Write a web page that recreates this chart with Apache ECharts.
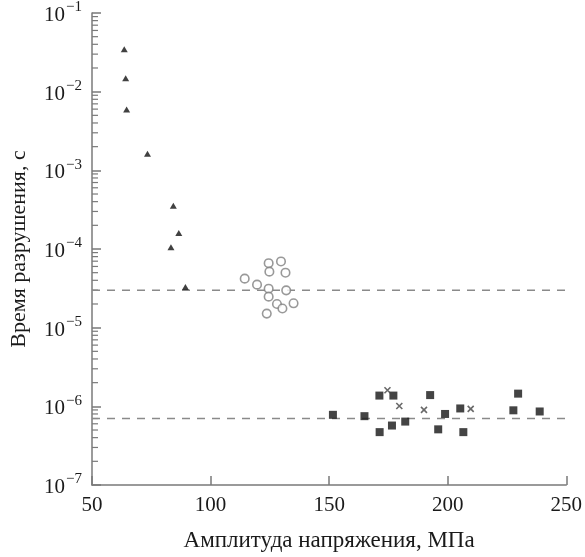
<!DOCTYPE html>
<html>
<head>
<meta charset="utf-8">
<script src="https://cdn.jsdelivr.net/npm/echarts@6/dist/echarts.min.js"></script>
<style>
  html, body { margin: 0; padding: 0; background: #fff; }
  #chart { width: 585px; height: 557px; }
</style>
</head>
<body>
<div id="chart"></div>
<script>
// Stress amplitude (MPa) vs time to failure (s)
const triangleX = [63.6, 64.2, 64.6, 73.4, 84.3, 86.6, 83.3, 89.4];
const triangleY = [3.45e-2, 1.48e-2, 5.95e-3, 1.62e-3, 3.55e-4, 1.6e-4, 1.05e-4, 3.28e-5];

const circleX = [114.4, 119.6, 124.5, 129.7, 124.8, 131.6, 124.5, 131.9, 124.5, 128.0, 130.3, 135.0, 123.7];
const circleY = [4.2e-5, 3.52e-5, 6.6e-5, 6.95e-5, 5.15e-5, 5.0e-5, 3.13e-5, 2.98e-5, 2.48e-5, 2.0e-5, 1.75e-5, 2.04e-5, 1.51e-5];

const squareX = [151.6, 164.9, 171.2, 177.1, 171.3, 176.5, 182.1, 192.6, 196.0, 198.9, 205.3, 206.6, 227.7, 229.7, 238.8];
const squareY = [7.8e-7, 7.5e-7, 1.37e-6, 1.37e-6, 4.7e-7, 5.7e-7, 6.4e-7, 1.39e-6, 5.1e-7, 8.0e-7, 9.4e-7, 4.7e-7, 8.9e-7, 1.45e-6, 8.6e-7];

const crossX = [174.6, 179.6, 190.0, 209.7];
const crossY = [1.6e-6, 1.01e-6, 9.0e-7, 9.3e-7];

// Horizontal reference levels
const levels = [3e-5, 7e-7];

// Axis ranges and ticks
const xTicks = [50, 100, 150, 200, 250];
const yMinExp = -7;
const yMaxExp = -1;
const minorMultipliers = [2, 3, 4, 5, 6, 7, 8, 9];

const FONT = '"Liberation Serif", "DejaVu Serif", serif';
const AXIS_COLOR = '#7a7a7a';
const TEXT_COLOR = '#1a1a1a';

const zip = (xs, ys) => xs.map((x, i) => [x, ys[i]]);

// Minor ticks of the log axis (2..9 within every decade)
const minorTicks = [];
for (let e = yMinExp; e < yMaxExp; e++) {
  minorMultipliers.forEach(m => minorTicks.push([xTicks[0], m * Math.pow(10, e)]));
}

const chart = echarts.init(document.getElementById('chart'), null, { renderer: 'canvas' });

const crossPath = 'path://M0,0L10,10M10,0L0,10';

chart.setOption({
  animation: false,
  backgroundColor: '#ffffff',
  grid: { left: 91, right: 18, top: 12.5, bottom: 71, containLabel: false },
  xAxis: {
    type: 'value',
    min: 50, max: 250, interval: 50,
    name: 'Амплитуда напряжения, МПа',
    nameLocation: 'middle',
    nameGap: 44,
    nameTextStyle: { fontFamily: FONT, fontSize: 23, color: TEXT_COLOR },
    axisLine: { lineStyle: { color: AXIS_COLOR, width: 1.5 } },
    axisTick: { inside: true, length: 9, lineStyle: { color: AXIS_COLOR, width: 1.5 } },
    axisLabel: { fontFamily: FONT, fontSize: 21, color: TEXT_COLOR, margin: 10 },
    splitLine: { show: false }
  },
  yAxis: {
    type: 'log', logBase: 10,
    min: Math.pow(10, yMinExp), max: Math.pow(10, yMaxExp),
    interval: 1,
    name: 'Время разрушения, с',
    nameLocation: 'middle',
    nameGap: 62,
    nameTextStyle: { fontFamily: FONT, fontSize: 22, color: TEXT_COLOR },
    axisLine: { show: true, lineStyle: { color: AXIS_COLOR, width: 1.5 } },
    axisTick: { inside: true, length: 9, lineStyle: { color: AXIS_COLOR, width: 1.5 } },
    axisLabel: {
      margin: 10,
      formatter: v => {
        const e = Math.round(Math.log10(v));
        return '{b|10}{s|−' + Math.abs(e) + '}';
      },
      rich: {
        b: { fontFamily: FONT, fontSize: 21, color: TEXT_COLOR, verticalAlign: 'bottom', lineHeight: 26 },
        s: { fontFamily: FONT, fontSize: 15, color: TEXT_COLOR, verticalAlign: 'top', lineHeight: 26, padding: [0, 0, 0, 1] }
      }
    },
    splitLine: { show: false }
  },
  series: [
    {
      type: 'custom',
      silent: true,
      clip: false,
      data: minorTicks,
      renderItem: (params, api) => {
        const p = api.coord([api.value(0), api.value(1)]);
        return {
          type: 'line',
          shape: { x1: p[0], y1: p[1], x2: p[0] + 6, y2: p[1] },
          style: { stroke: AXIS_COLOR, lineWidth: 1.2 }
        };
      },
      z: 1
    },
    ...levels.map(v => ({
      type: 'line',
      data: [[xTicks[0], v], [xTicks[xTicks.length - 1], v]],
      symbol: 'none',
      silent: true,
      lineStyle: { color: '#8a8a8a', width: 1.5, type: [8, 7] },
      z: 1
    })),
    {
      type: 'scatter',
      data: zip(triangleX, triangleY),
      symbol: 'triangle',
      symbolSize: [7, 6],
      itemStyle: { color: '#111' },
      z: 3
    },
    {
      type: 'scatter',
      data: zip(circleX, circleY),
      symbol: 'circle',
      symbolSize: 8.5,
      itemStyle: { color: '#fff', borderColor: '#808080', borderWidth: 1.6 },
      z: 3
    },
    {
      type: 'scatter',
      data: zip(squareX, squareY),
      symbol: 'rect',
      symbolSize: 8,
      itemStyle: { color: '#151515' },
      z: 3
    },
    {
      type: 'scatter',
      data: zip(crossX, crossY),
      symbol: crossPath,
      symbolSize: 6,
      itemStyle: { color: 'none', borderColor: '#444', borderWidth: 1.6 },
      z: 4
    }
  ]
});
</script>
</body>
</html>
